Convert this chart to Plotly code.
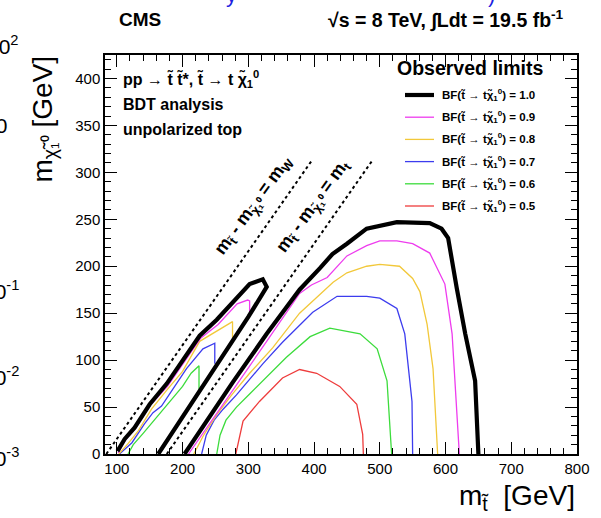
import plotly.graph_objects as go

# ---------------------------------------------------------------
# Observed exclusion contours in the (m_stop, m_LSP) plane, GeV.
# One open line per branching fraction, split into the compressed
# strip (between the m_W and m_t diagonals) and the main region.
# ---------------------------------------------------------------
bf_levels = ["1.0", "0.9", "0.8", "0.7", "0.6", "0.5"]

strip_bf10_x = [101, 112, 127, 150, 176, 200, 226, 252, 282, 302, 322, 328, 300, 250, 200, 163]
strip_bf10_y = [3, 16, 28, 53, 75, 99, 126, 143, 166, 181, 186, 178, 146, 92, 38, 0]
strip_bf09_x = [102, 113, 128, 151, 177, 201, 227, 254, 283, 299, 302, 302]
strip_bf09_y = [1, 15, 27, 52, 72, 97, 123, 138, 160, 164, 163, 151]
strip_bf08_x = [103, 117, 132, 153, 176, 200, 226, 252, 276, 276]
strip_bf08_y = [0, 11, 24, 48, 68, 88, 120, 131, 141, 122]
strip_bf07_x = [104, 123, 142, 155, 168, 196, 206, 231, 249, 249]
strip_bf07_y = [0, 12, 32, 44, 51, 81, 91, 112, 118, 96]
strip_bf06_x = [117, 125, 140, 157, 171, 189, 200, 213, 225, 225]
strip_bf06_y = [0, 10, 22, 36, 48, 62, 72, 86, 94, 69]

main_bf10_x = [203, 226, 276, 328, 378, 409, 428, 450, 480, 526, 550, 576, 594, 604, 617, 630, 645, 650]
main_bf10_y = [0, 24, 76, 128, 175, 198, 213, 224, 240, 247, 247, 246, 240, 230, 177, 128, 78, 0]
main_bf09_x = [209, 230, 279, 330, 378, 396, 420, 450, 480, 500, 526, 550, 576, 599, 610, 616, 621]
main_bf09_y = [0, 21, 71, 122, 171, 180, 188, 211, 222, 227, 227, 224, 214, 181, 128, 60, 0]
main_bf08_x = [217, 232, 252, 276, 302, 337, 378, 429, 450, 480, 500, 530, 550, 561, 572, 581, 588]
main_bf08_y = [0, 20, 42, 64, 86, 113, 150, 183, 193, 200, 202, 200, 187, 173, 138, 91, 0]
main_bf07_x = [229, 236, 248, 262, 282, 302, 322, 352, 398, 435, 480, 500, 526, 538, 549, 550]
main_bf07_y = [0, 20, 36, 48, 63, 80, 96, 119, 151, 168, 168, 166, 155, 128, 56, 0]
main_bf06_x = [252, 257, 266, 282, 302, 328, 358, 394, 424, 470, 496, 511, 515, 518]
main_bf06_y = [0, 20, 36, 50, 64, 82, 103, 125, 134, 128, 112, 78, 38, 0]
main_bf05_x = [281, 292, 317, 352, 378, 404, 439, 465, 474, 475]
main_bf05_y = [0, 35, 56, 81, 90, 86, 72, 53, 21, 0]

# kinematic boundaries m_stop - m_LSP = m_W and = m_t
m_w = 84
m_top = 176
diag_lsp = [0, 312]

# axis ranges
x_range = [82, 800]
y_range = [0, 425]

colors = {"1.0": "#000000", "0.9": "#ee3cee", "0.8": "#f2c83a",
          "0.7": "#3c3cee", "0.6": "#3cdc3c", "0.5": "#ee3c3c"}
widths = {"1.0": 4.2, "0.9": 1.3, "0.8": 1.3, "0.7": 1.3, "0.6": 1.3, "0.5": 1.3}

curves = [
    ("1.0", strip_bf10_x, strip_bf10_y), ("1.0", main_bf10_x, main_bf10_y),
    ("0.9", strip_bf09_x, strip_bf09_y), ("0.9", main_bf09_x, main_bf09_y),
    ("0.8", strip_bf08_x, strip_bf08_y), ("0.8", main_bf08_x, main_bf08_y),
    ("0.7", strip_bf07_x, strip_bf07_y), ("0.7", main_bf07_x, main_bf07_y),
    ("0.6", strip_bf06_x, strip_bf06_y), ("0.6", main_bf06_x, main_bf06_y),
    ("0.5", main_bf05_x, main_bf05_y),
]

FONT = "Liberation Sans, Arial, Helvetica, sans-serif"

fig = go.Figure()

# draw lighter levels first, black on top
for lvl, xs, ys in sorted(curves, key=lambda c: float(c[0])):
    fig.add_trace(go.Scatter(x=xs, y=ys, mode="lines",
                             line=dict(color=colors[lvl], width=widths[lvl]),
                             showlegend=False, hoverinfo="skip"))

for off in (m_w, m_top):
    fig.add_trace(go.Scatter(x=[off + v for v in diag_lsp], y=diag_lsp, mode="lines",
                             line=dict(color="black", width=2, dash="dot"),
                             showlegend=False, hoverinfo="skip"))

# plot frame in pixels
L, R, T, B = 105, 577, 55, 454
W, H = R - L, B - T


def fx(p):
    return (p - L) / W


def fy(p):
    return (B - p) / H


ann = []


def text(s, x, y, size, xa="left", ya="middle", bold=False, angle=0, color="black"):
    if bold:
        s = "<b>" + s + "</b>"
    ann.append(dict(text=s, x=fx(x), y=fy(y), xref="paper", yref="paper",
                    xanchor=xa, yanchor=ya, showarrow=False, textangle=angle,
                    font=dict(family=FONT, size=size, color=color)))


# header
text("CMS", 117, 20, 19, bold=True)
text("√s = 8 TeV, ∫Ldt = 19.5 fb<sup>-1</sup>", 566, 20, 19.5, xa="right", bold=True)

# process description
text("pp → t̃ t̃*, t̃ → t χ̃<sub>1</sub><sup>0</sup>", 121, 79, 16, bold=True)
text("BDT analysis", 121, 104, 16, bold=True)
text("unpolarized top", 121, 129, 16, bold=True)

# diagonal labels
text("m<sub>t̃</sub> - m<sub>χ̃₁⁰</sub> = m<sub>W</sub>", 253, 206, 18, xa="center", bold=True, angle=-54)
text("m<sub>t̃</sub> - m<sub>χ̃₁⁰</sub> = m<sub>t</sub>", 313, 206, 18, xa="center", bold=True, angle=-54)

# axis titles
text("m<sub>t̃</sub>  [GeV]", 577, 497, 28, xa="right")
text("m<sub>χ̃₁⁰</sub> [GeV]", 44, 185, 28, xa="center", ya="bottom", angle=-90)

# legend
text("Observed limits", 470, 68, 19.5, xa="center", bold=True)
shapes = []
for i, lvl in enumerate(bf_levels):
    yy = 95 + i * 22.2
    shapes.append(dict(type="line", xref="paper", yref="paper",
                       x0=fx(405), x1=fx(434), y0=fy(yy), y1=fy(yy),
                       line=dict(color=colors[lvl], width=widths[lvl])))
    text("BF(t̃ → tχ̃<sub>1</sub><sup>0</sup>) = " + lvl, 440, yy, 11.5, bold=True)

# neighbouring panel remnants at the left edge and top
for lbl, yy in (("10<sup>2</sup>", 45), ("10", 125), ("10<sup>-1</sup>", 290),
                ("10<sup>-2</sup>", 376), ("10<sup>-3</sup>", 457)):
    text(lbl, 21 if "sup" in lbl else 9, yy, 21, xa="right")
text("y", 224, 9, 22, ya="bottom", color="#2020e0")
text(")", 486, 9, 22, ya="bottom", color="#2020e0")

axis_common = dict(showline=True, linecolor="black", linewidth=1.5, mirror="allticks",
                   ticks="inside", ticklen=12, tickwidth=1.2, tickcolor="black",
                   showgrid=False, zeroline=False,
                   tickfont=dict(family=FONT, size=15, color="black"))

fig.update_layout(
    width=601, height=518,
    margin=dict(l=L, r=601 - R, t=T, b=518 - B),
    paper_bgcolor="white", plot_bgcolor="white",
    xaxis=dict(range=x_range, dtick=100, tick0=0,
               minor=dict(ticks="inside", ticklen=6, dtick=20, tickcolor="black", tickwidth=1),
               **axis_common),
    yaxis=dict(range=y_range, dtick=50, tick0=0,
               minor=dict(ticks="inside", ticklen=6, dtick=10, tickcolor="black", tickwidth=1),
               **axis_common),
    annotations=ann, shapes=shapes, showlegend=False,
)

fig.write_html("out.html")
